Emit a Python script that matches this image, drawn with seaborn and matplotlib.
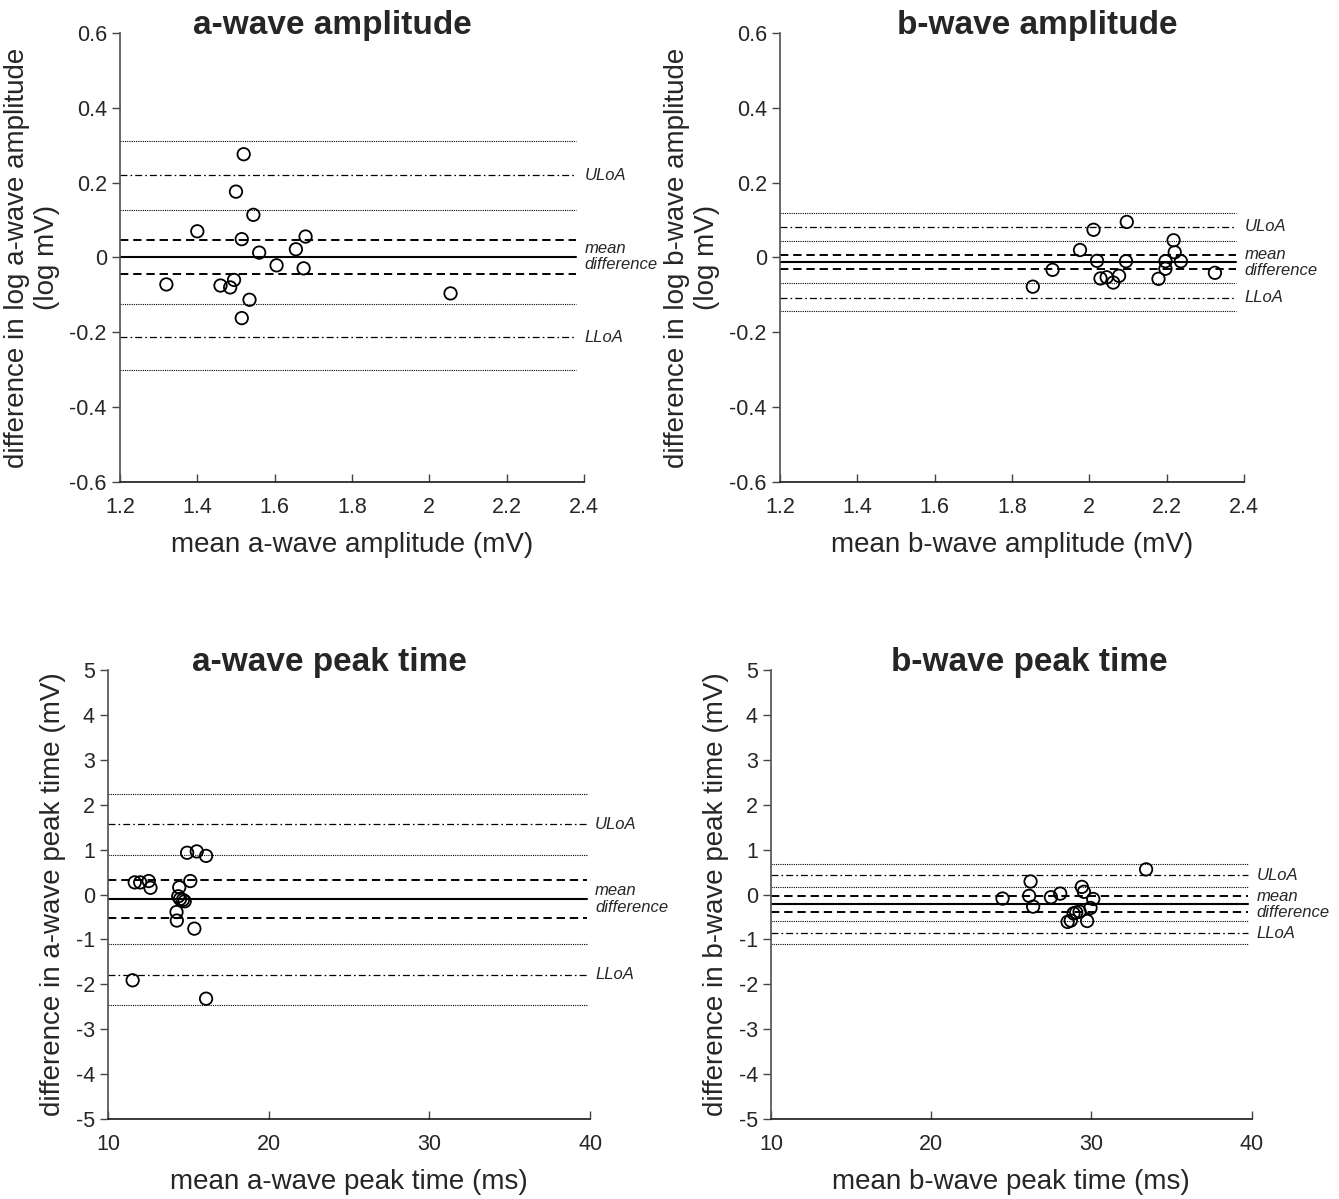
import matplotlib
matplotlib.use("Agg")
import matplotlib.pyplot as plt
import matplotlib.ticker as mticker
import seaborn as sns
import pandas as pd

# --- data (Bland-Altman plots) ---
# a-wave amplitude
amp_a_mean = [1.52, 1.50, 1.545, 1.40, 1.515, 1.68, 1.655, 1.56, 1.605, 1.675,
              1.495, 1.32, 1.46, 1.485, 1.535, 1.515, 2.055]
amp_a_diff = [0.276, 0.176, 0.114, 0.070, 0.049, 0.056, 0.022, 0.013, -0.021, -0.029,
              -0.060, -0.072, -0.075, -0.080, -0.113, -0.162, -0.096]
# b-wave amplitude
amp_b_mean = [2.097, 2.011, 2.218, 1.976, 2.221, 2.020, 2.095, 2.197, 2.237, 1.905,
              2.197, 2.325, 2.029, 2.045, 2.062, 2.077, 2.179, 1.854]
amp_b_diff = [0.095, 0.074, 0.046, 0.020, 0.014, -0.009, -0.010, -0.010, -0.010, -0.033,
              -0.030, -0.041, -0.056, -0.053, -0.067, -0.049, -0.057, -0.078]
# a-wave peak time
pt_a_mean = [14.92, 15.52, 16.10, 11.66, 12.00, 12.53, 12.64, 15.12, 14.43, 14.37,
             14.48, 14.66, 14.77, 14.26, 14.28, 15.37, 11.53, 16.10]
pt_a_diff = [0.93, 0.96, 0.86, 0.27, 0.27, 0.30, 0.15, 0.30, 0.16, -0.04,
             -0.10, -0.12, -0.15, -0.39, -0.58, -0.76, -1.91, -2.32]
# b-wave peak time
pt_b_mean = [33.41, 26.20, 29.40, 29.53, 24.45, 26.11, 26.36, 27.47, 28.05, 30.11,
             29.94, 29.26, 29.05, 28.88, 28.71, 28.51, 29.73]
pt_b_diff = [0.56, 0.29, 0.17, 0.06, -0.09, -0.03, -0.27, -0.06, 0.02, -0.10,
             -0.30, -0.38, -0.40, -0.42, -0.58, -0.61, -0.59]

# reference lines: mean, CI of mean, limits of agreement and their CIs
# order: uloa_hi, uloa, uloa_lo, ci_hi, mean, ci_lo, lloa_hi, lloa, lloa_lo
amp_a_lines = [0.312, 0.220, 0.126, 0.047, 0.002, -0.045, -0.125, -0.213, -0.301]
amp_b_lines = [0.120, 0.082, 0.044, 0.006, -0.013, -0.032, -0.069, -0.107, -0.143]
pt_a_lines = [2.24, 1.56, 0.87, 0.32, -0.10, -0.52, -1.10, -1.79, -2.47]
pt_b_lines = [0.69, 0.43, 0.17, -0.04, -0.215, -0.39, -0.60, -0.86, -1.10]

amp_line_x = [1.2, 2.38]
pt_line_x = [10, 39.8]

amp_ticks = [0.6, 0.4, 0.2, 0, -0.2, -0.4, -0.6]
amp_xticks = [1.2, 1.4, 1.6, 1.8, 2.0, 2.2, 2.4]
pt_ticks = [5, 4, 3, 2, 1, 0, -1, -2, -3, -4, -5]
pt_xticks = [10, 20, 30, 40]

sns.set_theme(style="ticks")
plt.rcParams['font.family'] = ['Liberation Sans', 'DejaVu Sans']
plt.rcParams['axes.unicode_minus'] = False
plt.rcParams['lines.scale_dashes'] = False

fig = plt.figure(figsize=(13.39, 11.99), dpi=100)

panels = [
    dict(rect=[0.0896, 0.598, 0.3465, 0.3745], x=amp_a_mean, y=amp_a_diff, lines=amp_a_lines,
         lx=amp_line_x, xt=amp_xticks, yt=amp_ticks, title='a-wave amplitude', tx=0.157,
         xlabel='mean a-wave amplitude (mV)',
         ylabel='difference in log a-wave amplitude\n(log mV)'),
    dict(rect=[0.5825, 0.598, 0.3465, 0.3745], x=amp_b_mean, y=amp_b_diff, lines=amp_b_lines,
         lx=amp_line_x, xt=amp_xticks, yt=amp_ticks, title='b-wave amplitude', tx=0.252,
         xlabel='mean b-wave amplitude (mV)',
         ylabel='difference in log b-wave amplitude\n(log mV)'),
    dict(rect=[0.0807, 0.0667, 0.360, 0.3745], x=pt_a_mean, y=pt_a_diff, lines=pt_a_lines,
         lx=pt_line_x, xt=pt_xticks, yt=pt_ticks, title='a-wave peak time', tx=0.174,
         xlabel='mean a-wave peak time (ms)',
         ylabel='difference in a-wave peak time (mV)'),
    dict(rect=[0.5758, 0.0667, 0.359, 0.3745], x=pt_b_mean, y=pt_b_diff, lines=pt_b_lines,
         lx=pt_line_x, xt=pt_xticks, yt=pt_ticks, title='b-wave peak time', tx=0.249,
         xlabel='mean b-wave peak time (ms)',
         ylabel='difference in b-wave peak time (mV)'),
]

# line styles for the 9 reference lines
dotted = dict(ls=(0, (0.8, 0.8)), lw=0.8)
dashdot = dict(ls=(0, (5, 2.2, 1.2, 2.2)), lw=0.9)
dashed = dict(ls=(0, (6, 3.5)), lw=1.4)
solid = dict(ls='-', lw=1.5)
line_styles = [dotted, dashdot, dotted, dashed, solid, dashed, dotted, dashdot, dotted]

for p in panels:
    ax = fig.add_axes(p['rect'])
    for yv, st in zip(p['lines'], line_styles):
        ax.plot(p['lx'], [yv, yv], color='black', **st)

    df = pd.DataFrame({'mean': p['x'], 'diff': p['y']})
    sns.scatterplot(data=df, x='mean', y='diff', ax=ax, marker='o', s=80,
                    facecolor='none', edgecolor='black', linewidth=1.3, zorder=3)

    # line labels to the right of the plot
    x_end = p['lx'][1]
    for txt, yv in [('ULoA', p['lines'][1]), ('mean\ndifference', p['lines'][4]),
                    ('LLoA', p['lines'][7])]:
        ax.annotate(txt, xy=(x_end, yv), xytext=(6, 0), textcoords='offset points',
                    ha='left', va='center', fontsize=12, style='italic',
                    linespacing=1.1, annotation_clip=False)

    ax.set_xlim(p['xt'][0], p['xt'][-1])
    ax.set_ylim(p['yt'][-1], p['yt'][0])
    ax.set_xticks(p['xt'])
    ax.set_yticks(p['yt'])
    ax.xaxis.set_major_formatter(mticker.FuncFormatter(lambda v, pos: f"{v:g}"))
    ax.yaxis.set_major_formatter(mticker.FuncFormatter(lambda v, pos: f"{v:g}"))
    ax.tick_params(axis='y', direction='out', length=6, width=1, labelsize=15.5, color='#444444')
    ax.tick_params(axis='x', direction='in', length=6, width=1, labelsize=15.5, color='#444444', pad=11)

    sns.despine(ax=ax)
    ax.spines['left'].set_color('#555555')
    ax.spines['bottom'].set_color('#222222')

    ax.set_xlabel(p['xlabel'], fontsize=20, labelpad=10)
    ax.set_ylabel(p['ylabel'], fontsize=20, labelpad=7)
    ax.text(p['tx'], 0.998, p['title'], transform=ax.transAxes, ha='left', va='baseline',
            fontsize=24, fontweight='bold')

fig.savefig('out.png', dpi=100)
